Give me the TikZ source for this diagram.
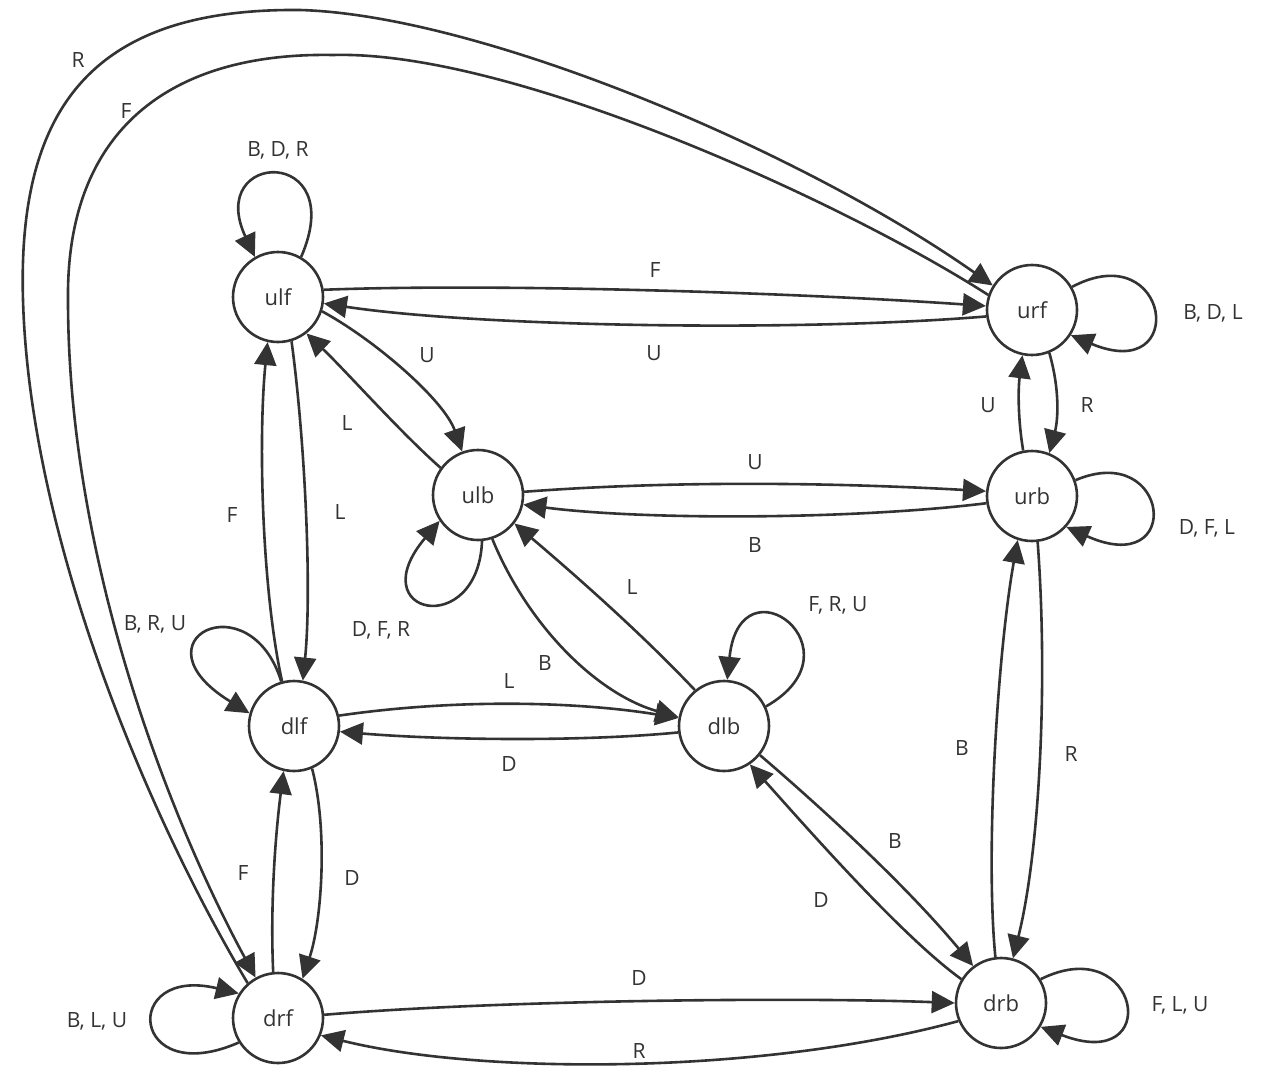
\documentclass[tikz,border=0pt]{standalone}
\usepackage{fontspec}
\setmainfont{Open Sans}
\usetikzlibrary{arrows.meta}
\definecolor{ink}{HTML}{333333}
\begin{document}
\begin{tikzpicture}[x=1pt,y=-1pt,
  state/.style={circle, draw=ink, line width=2.6pt, minimum size=90pt, inner sep=0pt, text=ink, font=\fontsize{22}{26}\selectfont},
  edge/.style={color=ink, line width=2.6pt, -{Triangle[length=23pt,width=22pt]}},
  lbl/.style={text=ink, font=\fontsize{21}{25}\selectfont, inner sep=0pt}]
\useasboundingbox[fill=white] (0,0) rectangle (1261,1074);

% states
\node[state] (ulf) at (278,297) {ulf};
\node[state] (urf) at (1032,310) {urf};
\node[state] (ulb) at (478,495) {ulb};
\node[state] (urb) at (1032,496) {urb};
\node[state] (dlf) at (294,726) {dlf};
\node[state] (dlb) at (724,726) {dlb};
\node[state] (drf) at (278,1018) {drf};
\node[state] (drb) at (1001,1003) {drb};

% edges
\draw[edge] (ulf.9) .. controls (500,283) and (800,293) .. (urf.175);
\draw[edge] (urf.188) .. controls (800,332) and (480,327) .. (ulf.352);
\draw[edge] (ulf.-18) .. controls (375,340) and (444,400) .. (ulb.110);
\draw[edge] (ulb.144) .. controls (400,432) and (345,370) .. (ulf.-52);
\draw[edge] (ulf.-73) .. controls (305,440) and (312,590) .. (dlf.79);
\draw[edge] (dlf.105) .. controls (262,590) and (258,440) .. (ulf.-103);
\draw[edge] (ulf.60) .. controls (350,145) and (205,150) .. (ulf.120);
\draw[edge] (urf.30) .. controls (1170,235) and (1190,385) .. (urf.-33);
\draw[edge] (urf.-68) .. controls (1060,390) and (1058,420) .. (urb.68);
\draw[edge] (urb.101) .. controls (1018,420) and (1018,390) .. (urf.-102);
\draw[edge] (ulb.4) .. controls (680,480) and (840,483) .. (urb.174);
\draw[edge] (urb.189) .. controls (850,520) and (640,520) .. (ulb.-12);
\draw[edge] (ulb.-85) .. controls (478,640) and (360,615) .. (ulb.214);
\draw[edge] (ulb.-72) .. controls (530,630) and (600,695) .. (dlb.169);
\draw[edge] (dlb.129) .. controls (640,632) and (575,575) .. (ulb.-38);
\draw[edge] (urb.20) .. controls (1170,440) and (1185,580) .. (urb.-42);
\draw[edge] (urb.-83) .. controls (1048,680) and (1040,850) .. (drb.75);
\draw[edge] (drb.97) .. controls (985,850) and (998,650) .. (urb.-108);
\draw[edge] (dlf.106) .. controls (250,580) and (130,640) .. (dlf.164);
\draw[edge] (dlf.13) .. controls (460,698) and (580,702) .. (dlb.170);
\draw[edge] (dlb.188) .. controls (580,742) and (440,740) .. (dlf.-7);
\draw[edge] (dlf.-67) .. controls (328,830) and (322,920) .. (drf.58);
\draw[edge] (drf.96) .. controls (270,900) and (276,830) .. (dlf.-103);
\draw[edge] (dlb.25) .. controls (865,650) and (740,555) .. (dlb.86);
\draw[edge] (dlb.-39) .. controls (830,815) and (910,890) .. (drb.127);
\draw[edge] (drb.149) .. controls (900,935) and (800,820) .. (dlb.-56);
\draw[edge] (drf.212) .. controls (130,1090) and (120,965) .. (drf.148);
\draw[edge] (drb.31) .. controls (1140,930) and (1165,1075) .. (drb.-31);
\draw[edge] (drf.4) .. controls (500,1000) and (800,997) .. (drb.180);
\draw[edge] (drb.203) .. controls (760,1075) and (480,1075) .. (drf.-22);
\draw[edge] (drf.131) .. controls (150,820) and (30,540) .. (23,300)
   .. controls (17,100) and (100,8) .. (300,10)
   .. controls (480,15) and (800,150) .. (urf.148);
\draw[edge] (urf.161) .. controls (840,200) and (510,50) .. (333,55)
   .. controls (170,52) and (66,130) .. (68,300)
   .. controls (68,560) and (170,820) .. (drf.119);

% labels
\node[lbl] (lR1) at (78,60) {R};
\node[lbl] (lF1) at (126,111) {F};
\node[lbl] (lulf) at (278,150) {B, D, R};
\node[lbl] (lF2) at (655,270) {F};
\node[lbl] (lU1) at (654,353) {U};
\node[lbl] (lurf) at (1213,313) {B, D, L};
\node[lbl] (lU2) at (427,355) {U};
\node[lbl] (lL1) at (347,423) {L};
\node[lbl] (lL2) at (340,512) {L};
\node[lbl] (lF3) at (232,515) {F};
\node[lbl] (lU3) at (988,405) {U};
\node[lbl] (lR2) at (1087,405) {R};
\node[lbl] (lU4) at (755,462) {U};
\node[lbl] (lB1) at (755,545) {B};
\node[lbl] (lurb) at (1207,528) {D, F, L};
\node[lbl] (lulb) at (381,630) {D, F, R};
\node[lbl] (lL3) at (632,587) {L};
\node[lbl] (lB2) at (545,663) {B};
\node[lbl] (ldlf) at (155,624) {B, R, U};
\node[lbl] (ldlb) at (838,605) {F, R, U};
\node[lbl] (lL4) at (509,681) {L};
\node[lbl] (lD1) at (509,764) {D};
\node[lbl] (lB3) at (962,748) {B};
\node[lbl] (lR3) at (1071,754) {R};
\node[lbl] (lB4) at (895,841) {B};
\node[lbl] (lD2) at (821,900) {D};
\node[lbl] (lF4) at (243,873) {F};
\node[lbl] (lD3) at (352,878) {D};
\node[lbl] (lD4) at (639,978) {D};
\node[lbl] (lR4) at (639,1051) {R};
\node[lbl] (ldrf) at (97,1021) {B, L, U};
\node[lbl] (ldrb) at (1180,1005) {F, L, U};
\end{tikzpicture}
\end{document}
